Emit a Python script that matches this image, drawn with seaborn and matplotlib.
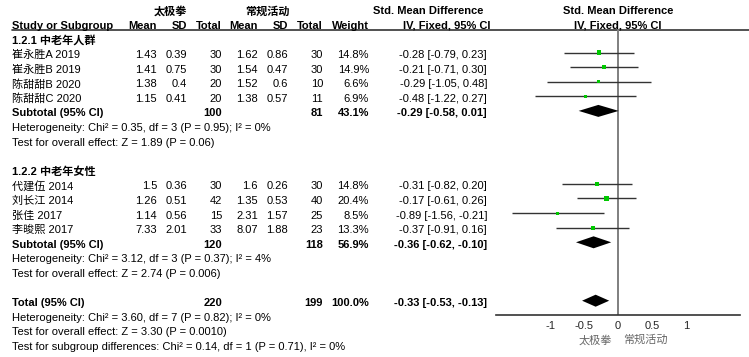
"""
Forest plot (RevMan style): Tai Chi vs routine activity, SMD with fixed-effect model.
"""
import numpy  as np
import pandas as pd

import matplotlib
matplotlib.use("Agg")
import matplotlib.pyplot as plt
import seaborn           as sns

# ================================================================================
# Data
# ================================================================================
studies  = ["崔永胜A 2019", "崔永胜B 2019", "陈甜甜B 2020", "陈甜甜C 2020",
            "代建伍 2014", "刘长江 2014", "张佳 2017", "李晙熙 2017"]
subgroup = [0, 0, 0, 0, 1, 1, 1, 1]
exp_mean = [1.43, 1.41, 1.38, 1.15, 1.5, 1.26, 1.14, 7.33]
exp_sd   = [0.39, 0.75, 0.4, 0.41, 0.36, 0.51, 0.56, 2.01]
exp_n    = [30, 30, 20, 20, 30, 42, 15, 33]
ctl_mean = [1.62, 1.54, 1.52, 1.38, 1.6, 1.35, 2.31, 8.07]
ctl_sd   = [0.86, 0.47, 0.6, 0.57, 0.26, 0.53, 1.57, 1.88]
ctl_n    = [30, 30, 10, 11, 30, 40, 25, 23]
weight   = [14.8, 14.9, 6.6, 6.9, 14.8, 20.4, 8.5, 13.3]
smd      = [-0.28, -0.21, -0.29, -0.48, -0.31, -0.17, -0.89, -0.37]
ci_lo    = [-0.79, -0.71, -1.05, -1.22, -0.82, -0.61, -1.56, -0.91]
ci_hi    = [0.23, 0.30, 0.48, 0.27, 0.20, 0.26, -0.21, 0.16]

sub_labels = ["1.2.1 中老年人群", "1.2.2 中老年女性"]
sub_n_exp  = [100, 120]
sub_n_ctl  = [81, 118]
sub_weight = [43.1, 56.9]
sub_smd    = [-0.29, -0.36]
sub_lo     = [-0.58, -0.62]
sub_hi     = [0.01, -0.10]
sub_het    = ["Heterogeneity: Chi² = 0.35, df = 3 (P = 0.95); I² = 0%",
              "Heterogeneity: Chi² = 3.12, df = 3 (P = 0.37); I² = 4%"]
sub_test   = ["Test for overall effect: Z = 1.89 (P = 0.06)",
              "Test for overall effect: Z = 2.74 (P = 0.006)"]

total_n_exp, total_n_ctl, total_weight = 220, 199, 100.0
total_smd, total_lo, total_hi = -0.33, -0.53, -0.13
total_het  = "Heterogeneity: Chi² = 3.60, df = 7 (P = 0.82); I² = 0%"
total_test = "Test for overall effect: Z = 3.30 (P = 0.0010)"
sub_diff   = "Test for subgroup differences: Chi² = 0.14, df = 1 (P = 0.71), I² = 0%"

exp_label, ctl_label = "太极拳", "常规活动"
ticks       = [-1, -0.5, 0, 0.5, 1]
tick_labels = ["-1", "-0.5", "0", "0.5", "1"]

# ================================================================================
# Style
# ================================================================================
sns.set_style("white")
plt.rcParams["font.family"] = ["Liberation Sans", "Noto Sans CJK SC"]
FS = 8

W, H   = 749, 357
Y0, DY = 11.2, 14.6           # pixel centre of row 0, row height
AX_Y   = 315                  # pixel row of the forest x axis
X_L, X_R = 496, 740           # forest axis pixel span

def row_y(i):
    return Y0 + DY * i

# column right edges (pixels)
c_mean1, c_sd1, c_n1 = 157, 187, 222
c_mean2, c_sd2, c_n2 = 258, 288, 323
c_w, c_ci = 369, 487

fig = plt.figure(figsize=(W / 100, H / 100), dpi=100)
bg  = fig.add_axes([0, 0, 1, 1])
bg.set_xlim(0, W); bg.set_ylim(H, 0); bg.axis("off")

ax = fig.add_axes([X_L / W, (H - AX_Y) / H, (X_R - X_L) / W, AX_Y / H])
ax.set_xlim(-1.8, 1.8); ax.set_ylim(AX_Y, 0)
ax.patch.set_alpha(0)

def txt(x, i, s, ha="left", bold=False, color="black"):
    bg.text(x, row_y(i), s, ha=ha, va="center", fontsize=FS,
            fontweight="bold" if bold else "normal", color=color)

# --------------------------------------------------------------------------------
# Header
# --------------------------------------------------------------------------------
txt(170, 0, exp_label, ha="center", bold=True)
txt(268, 0, ctl_label, ha="center", bold=True)
txt(428, 0, "Std. Mean Difference", ha="center", bold=True)
txt(618, 0, "Std. Mean Difference", ha="center", bold=True)
txt(12, 1, "Study or Subgroup", bold=True)
for x, s in [(c_mean1, "Mean"), (c_sd1, "SD"), (c_n1, "Total"),
             (c_mean2, "Mean"), (c_sd2, "SD"), (c_n2, "Total"), (c_w, "Weight")]:
    txt(x, 1, s, ha="right", bold=True)
txt(447, 1, "IV, Fixed, 95% CI", ha="center", bold=True)
txt(618, 1, "IV, Fixed, 95% CI", ha="center", bold=True)
bg.axhline(29.5, xmin=12 / W, xmax=1, color="#333333", lw=1.2)

# --------------------------------------------------------------------------------
# Table body
# --------------------------------------------------------------------------------
df = pd.DataFrame(dict(study=studies, sub=subgroup, m1=exp_mean, s1=exp_sd, n1=exp_n,
                       m2=ctl_mean, s2=ctl_sd, n2=ctl_n, w=weight,
                       smd=smd, lo=ci_lo, hi=ci_hi))

diamonds = []
i = 2
for g, label in enumerate(sub_labels):
    txt(12, i, label, bold=True); i += 1
    for _, r in df[df["sub"] == g].iterrows():
        df.loc[_, "row"] = i
        txt(12, i, r["study"])
        txt(c_mean1, i, f"{r.m1:g}", ha="right"); txt(c_sd1, i, f"{r.s1:g}", ha="right")
        txt(c_n1, i, f"{int(r.n1)}", ha="right")
        txt(c_mean2, i, f"{r.m2:g}", ha="right"); txt(c_sd2, i, f"{r.s2:g}", ha="right")
        txt(c_n2, i, f"{int(r.n2)}", ha="right")
        txt(c_w, i, f"{r.w:.1f}%", ha="right")
        txt(c_ci, i, f"{r.smd:.2f} [{r.lo:.2f}, {r.hi:.2f}]", ha="right")
        i += 1
    txt(12, i, "Subtotal (95% CI)", bold=True)
    txt(c_n1, i, f"{sub_n_exp[g]}", ha="right", bold=True)
    txt(c_n2, i, f"{sub_n_ctl[g]}", ha="right", bold=True)
    txt(c_w, i, f"{sub_weight[g]:.1f}%", ha="right", bold=True)
    txt(c_ci, i, f"{sub_smd[g]:.2f} [{sub_lo[g]:.2f}, {sub_hi[g]:.2f}]", ha="right", bold=True)
    diamonds.append((sub_smd[g], sub_lo[g], sub_hi[g], i)); i += 1
    txt(12, i, sub_het[g]); i += 1
    txt(12, i, sub_test[g]); i += 2

txt(12, i, "Total (95% CI)", bold=True)
txt(c_n1, i, f"{total_n_exp}", ha="right", bold=True)
txt(c_n2, i, f"{total_n_ctl}", ha="right", bold=True)
txt(c_w, i, f"{total_weight:.1f}%", ha="right", bold=True)
txt(c_ci, i, f"{total_smd:.2f} [{total_lo:.2f}, {total_hi:.2f}]", ha="right", bold=True)
diamonds.append((total_smd, total_lo, total_hi, i)); i += 1
txt(12, i, total_het); i += 1
txt(12, i, total_test); i += 1
txt(12, i, sub_diff)

# --------------------------------------------------------------------------------
# Forest panel
# --------------------------------------------------------------------------------
df["y"] = row_y(df["row"]) - 2.5
ax.axvline(0, ymin=0, ymax=1 - 29.5 / AX_Y, color="#7f7f7f", lw=1.4, zorder=1)
ax.hlines(df["y"], df["lo"], df["hi"], color="#333333", lw=1, zorder=2)
sns.scatterplot(data=df, x="smd", y="y", size="w", sizes=(3.7, 11.5), marker="s",
                color="#00c800", edgecolor="none", legend=False, ax=ax, zorder=3)
for m, lo, hi, r in diamonds:
    y = row_y(r) - 2.5
    ax.fill([lo, m, hi, m], [y, y - 6, y, y + 6], color="black", lw=0, zorder=3)

ax.set_xlabel(""); ax.set_ylabel("")
ax.set_yticks([])
ax.set_xticks(ticks, tick_labels, fontsize=FS)
ax.tick_params(axis="x", direction="inout", length=7, width=1, color="#333333", pad=1)
for s in ["top", "left", "right"]:
    ax.spines[s].set_visible(False)
ax.spines["bottom"].set_color("#333333"); ax.spines["bottom"].set_linewidth(1.2)

bg.text(612, 340, exp_label, ha="right", va="center", fontsize=FS, color="#666666")
bg.text(623, 340, ctl_label, ha="left", va="center", fontsize=FS, color="#666666")

fig.savefig("out.png", dpi=100)
